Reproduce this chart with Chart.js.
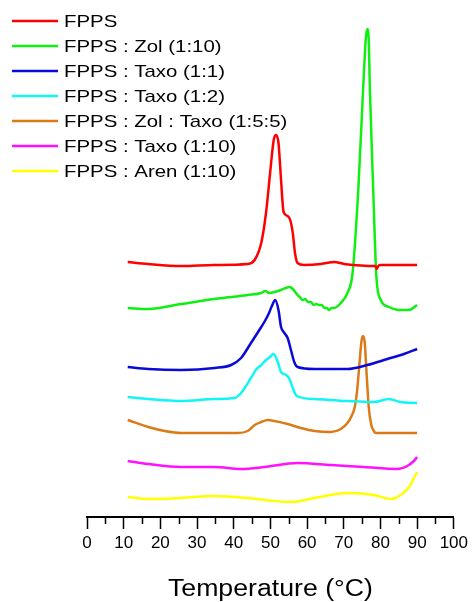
<!DOCTYPE html>
<html>
<head>
<meta charset="utf-8">
<script src="https://cdn.jsdelivr.net/npm/chart.js@4/dist/chart.umd.min.js"></script>
<style>
  html, body { margin: 0; padding: 0; background: #fff; }
  #wrap { width: 472px; height: 602px; }
</style>
</head>
<body>
<div id="wrap"><canvas id="c" width="472" height="602"></canvas></div>
<script>
// ---- Data (temperature in °C, offset heat flow in arbitrary units) ----
const labels = ["FPPS", "FPPS : Zol (1:10)", "FPPS : Taxo (1:1)", "FPPS : Taxo (1:2)",
                "FPPS : Zol : Taxo (1:5:5)", "FPPS : Taxo (1:10)", "FPPS : Aren (1:10)"];
const colors = ["#ff0000", "#11ee11", "#0a0ad8", "#11f5f5", "#dd7a18", "#ff11ff", "#ffff00"];
const xTitle = "Temperature (°C)";

const fppsT = [11.1,16.6,25.7,34.8,43.8,45.7,47.5,48.8,50,50.9,51.5,52.2,52.9,53.6,54.7,55.4,56.1,56.7,57.4,59.2,63.8,67.4,70.1,72.8,77.4,78.6,79,79.4,80.1,83.5,90];
const fppsV = [255,253,251,252,253,257,274,304,347,377,382,374,337,305,301,297,284,264,254,252,253,255,253,252,251,251,248,251,252,252,252];

const zolT = [11.1,16.7,25.7,34.8,43.8,47.5,48.6,49.7,51.1,52.9,55.2,56.1,57.4,58,58.8,59.5,60.2,61,61.8,62.5,63.3,64,64.7,65.4,66,66.7,67.4,69.2,71,72.4,74,75.3,76,76.4,76.8,77.1,78,78.9,80.1,82.3,85.1,87.8,90];
const zolV = [209,208,213,218,222,224,226,224,225,227,230,228,222,220,217,218,215,215,212,213,212,212,209,209,207,209,209,214,224,244,330,430,478,488,478,430,330,240,217,210,207,207,212];

const taxo1T = [11.1,16.7,25.7,34.8,39.3,42,44.7,47.5,48.5,49.5,50.4,51.3,52.2,52.9,53.8,54.7,55.6,56.5,57.4,62,71,76.4,81.9,86.4,90];
const taxo1V = [150,148,147,149,152,159,174,190,196,203,211,217,207,190,184,179,167,155,150,148,148,152,158,163,168];

const taxo2T = [11.1,16.7,25.7,34.8,40.2,42,44.7,46,47.5,48.8,50,50.9,52,52.9,54.3,55.2,56.1,57.2,62,71,78.3,82.3,85.5,90];
const taxo2V = [120,118,116,118,119,124,139,147,152,157,160.5,163,155,145,142,138,129,121,118,116,115,118,115,114];

const zolTaxoT = [11.1,16.7,21.2,25.7,34.8,41.1,43.8,45.7,47.5,49.3,51.1,54.7,58.3,62,66.5,69.2,71,72,73,73.6,74.2,74.8,75.2,75.7,76.2,76.8,77.5,78.2,78.7,84.6,90];
const zolTaxoV = [97,90,86,84,84,84,86,92,95,97,96,93,89,86,85,88,94,100,110,125,150,175,181,175,145,110,92,86,84,84,84];

const taxo10T = [11.1,16.7,25.7,34.8,42,48.4,57.4,66.5,75.5,84.6,87.3,89.1,90];
const taxo10V = [56,53,50,50,48,50,54,52,50,48,51,56,60];

const arenT = [11.1,16.7,25.7,34.8,43.8,51.1,55.6,62,71,78.3,82.8,85.5,87.8,90];
const arenV = [20,18,19,21,19,16,15,19,24,22,18,22,30,45];

const xTicksMajorStep = 10;
const xMinorStep = 5;

// ---- build datasets ----
const seriesT = [fppsT, zolT, taxo1T, taxo2T, zolTaxoT, taxo10T, arenT];
const seriesV = [fppsV, zolV, taxo1V, taxo2V, zolTaxoV, taxo10V, arenV];
const datasets = labels.map((lab, i) => ({
  label: lab,
  data: seriesT[i].map((t, j) => ({x: t, y: seriesV[i][j]})),
  borderColor: colors[i],
  borderWidth: 2.5,
  pointRadius: 0,
  fill: false,
  cubicInterpolationMode: 'monotone'
}));

const FONT = '"Liberation Sans", Arial, sans-serif';

const minorTicks = {
  id: 'minorTicks',
  afterDraw(chart) {
    const x = chart.scales.x;
    const ctx = chart.ctx;
    const y0 = chart.chartArea.bottom;
    ctx.save();
    ctx.strokeStyle = '#000';
    ctx.lineWidth = 1.5;
    for (let v = xMinorStep; v < 100; v += xTicksMajorStep) {
      const px = Math.round(x.getPixelForValue(v)) + 0.5;
      ctx.beginPath();
      ctx.moveTo(px, y0);
      ctx.lineTo(px, y0 + 7);
      ctx.stroke();
    }
    ctx.restore();
  }
};

// legend and axis title drawn as canvas text (slightly widened like the original figure)
const customText = {
  id: 'customText',
  afterDraw(chart) {
    const ctx = chart.ctx;
    ctx.save();
    ctx.font = '17px ' + FONT;
    ctx.textBaseline = 'middle';
    ctx.fillStyle = '#000';
    chart.data.datasets.forEach((ds, i) => {
      const y = 21 + 25 * i;
      ctx.strokeStyle = ds.borderColor;
      ctx.lineWidth = 2.5;
      ctx.beginPath();
      ctx.moveTo(12, y);
      ctx.lineTo(58, y);
      ctx.stroke();
      ctx.save();
      ctx.translate(64, y + 1);
      ctx.scale(1.2, 1);
      ctx.fillText(ds.label, 0, 0);
      ctx.restore();
    });
    // x axis title
    const xs = chart.scales.x;
    const cx = (xs.left + xs.right) / 2;
    ctx.font = '23px ' + FONT;
    ctx.textAlign = 'center';
    ctx.textBaseline = 'alphabetic';
    ctx.translate(cx, 596);
    ctx.scale(1.16, 1);
    ctx.fillText(xTitle, 0, 0);
    ctx.restore();
  }
};

new Chart(document.getElementById('c'), {
  type: 'line',
  data: { datasets },
  options: {
    responsive: false,
    animation: false,
    events: [],
    layout: { padding: { top: 10, left: 87, right: 17, bottom: 0 } },
    plugins: { legend: { display: false }, tooltip: { enabled: false } },
    scales: {
      x: {
        type: 'linear',
        min: 0, max: 100,
        afterFit(scale) { scale.height = 85; },
        border: { display: true, color: '#000', width: 2 },
        grid: { display: true, drawOnChartArea: false, drawTicks: true, tickLength: 12, tickColor: '#000', tickWidth: 1.5 },
        ticks: { stepSize: xTicksMajorStep, color: '#000', font: { family: FONT, size: 17 }, padding: 4, maxRotation: 0, autoSkip: false },
        title: { display: false }
      },
      y: {
        type: 'linear',
        display: false,
        min: 0, max: 507
      }
    }
  },
  plugins: [minorTicks, customText]
});
</script>
</body>
</html>
